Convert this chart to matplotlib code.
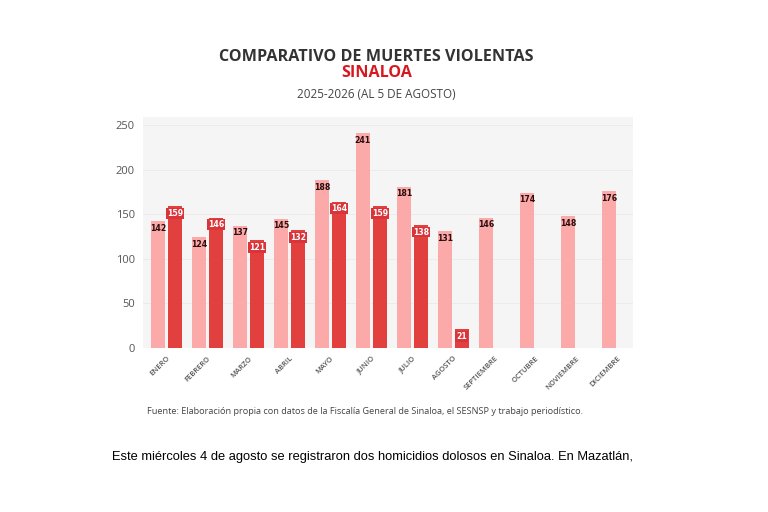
import matplotlib.pyplot as plt
import numpy as np

# datos
meses = ['ENERO', 'FEBRERO', 'MARZO', 'ABRIL', 'MAYO', 'JUNIO', 'JULIO',
         'AGOSTO', 'SEPTIEMBRE', 'OCTUBRE', 'NOVIEMBRE', 'DICIEMBRE']
v2025 = [142, 124, 137, 145, 188, 241, 181, 131, 146, 174, 148, 176]
v2026 = [159, 146, 121, 132, 164, 159, 138, 21]
y_ticks = [0, 50, 100, 150, 200, 250]

claro = '#fba9a9'
oscuro = '#e2403f'

fig = plt.figure(figsize=(7.68, 5.12), dpi=100)
fig.patch.set_facecolor('white')
ax = fig.add_axes([0.1862, 0.3203, 0.638, 0.4512])
ax.set_facecolor('#f5f5f5')

x = np.arange(len(meses))
x2 = np.arange(len(v2026))
w = 0.34
off = 0.205

b1 = ax.bar(x - off, v2025, width=w, color=claro, zorder=2)
b2 = ax.bar(x2 + off, v2026, width=w, color=oscuro, zorder=2)

for xi, v in zip(x, v2025):
    ax.text(xi - off, v - 8, str(v), ha='center', va='center', fontsize=5.6,
            fontweight='bold', color='#2a0d0d', family='DejaVu Sans', zorder=3)
for xi, v in zip(x2, v2026):
    ax.text(xi + off, v - 8, str(v), ha='center', va='center', fontsize=5.6,
            fontweight='bold', color='white', family='DejaVu Sans', zorder=3,
            bbox=dict(boxstyle='square,pad=0.12', fc='#d8343a', ec='none'))

ax.set_xlim(-0.57, 11.38)
ax.set_ylim(0, 259)
ax.set_yticks(y_ticks)
ax.set_xticks(x)
ax.set_xticklabels(meses, rotation=45, ha='right', rotation_mode='anchor',
                   fontsize=5.4, color='#555555', family='Open Sans',
                   fontweight='semibold')
ax.tick_params(axis='x', length=0, pad=5)
ax.tick_params(axis='y', length=0, pad=6, labelsize=8, labelcolor='#555555')
for lbl in ax.get_yticklabels():
    lbl.set_family('Open Sans')
ax.grid(axis='y', color='#eaeaea', linewidth=0.6, zorder=0)
for s in ax.spines.values():
    s.set_visible(False)

fig.text(0.49, 0.889, 'COMPARATIVO DE MUERTES VIOLENTAS', ha='center',
         va='center', fontsize=11.6, fontweight='bold', color='#333333',
         family='Open Sans')
fig.text(0.49, 0.858, 'SINALOA', ha='center', va='center', fontsize=11.6,
         fontweight='bold', color='#d7191f', family='Open Sans')
fig.text(0.49, 0.815, '2025-2026 (AL 5 DE AGOSTO)', ha='center', va='center',
         fontsize=8.4, color='#444444', family='Open Sans')

fig.text(0.191, 0.197, 'Fuente: Elaboración propia con datos de la Fiscalía '
         'General de Sinaloa, el SESNSP y trabajo periodístico.',
         ha='left', va='center', fontsize=6.6, color='#444444',
         family='Open Sans')

fig.text(0.146, 0.107, 'Este miércoles 4 de agosto se registraron dos homicidios '
         'dolosos en Sinaloa. En Mazatlán,', ha='left', va='center',
         fontsize=9.3, color='black', family='Liberation Sans')

fig.savefig('out.png', dpi=100)
